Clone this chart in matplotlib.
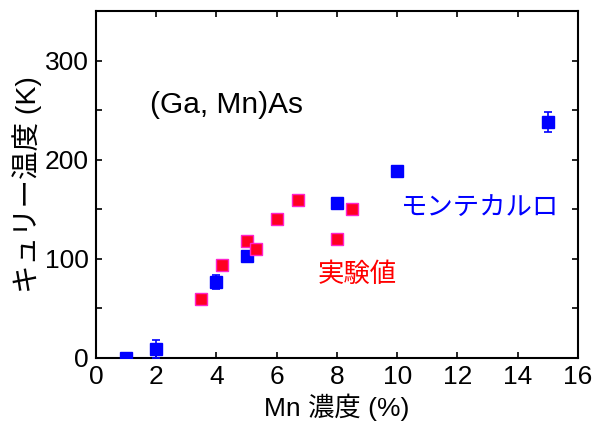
import matplotlib
matplotlib.use("Agg")
import matplotlib.pyplot as plt

plt.rcParams['font.family'] = ['Liberation Sans', 'Noto Sans CJK JP', 'DejaVu Sans']

# Monte Carlo (blue)
mc_x = [1, 2, 4, 5, 8, 10, 15]
mc_y = [0, 9, 77, 103, 156, 189, 238]
mc_err = [0, 9, 7, 0, 0, 4, 10]

# Experiment (red)
ex_x = [3.5, 4.2, 5.0, 5.3, 6.0, 6.7, 8.0, 8.5]
ex_y = [60, 94, 118, 110, 140, 159, 120, 150]

xticks = [0, 2, 4, 6, 8, 10, 12, 14, 16]
yticks = [0, 100, 200, 300]

fig = plt.figure(figsize=(6.03, 4.23), dpi=100)
ax = fig.add_axes([0.159, 0.1537, 0.7995, 0.8203])

ax.errorbar(mc_x, mc_y, yerr=mc_err, fmt='s', color='#0000ff', ms=8.5,
            mec='#0000ff', elinewidth=1.2, capsize=3, capthick=1.2, zorder=3)
ax.plot(ex_x, ex_y, 's', color='#ff0022', mec='#ff22cc', mew=1.0, ms=8, zorder=4)

ax.set_xlim(0, 16)
ax.set_ylim(0, 350)
ax.set_xticks(xticks)
ax.set_yticks(yticks)
ax.set_yticks([50, 150, 250], minor=True)
ax.tick_params(which='both', direction='in', top=True, right=True, labelsize=19,
               width=1.2, pad=5)
ax.tick_params(which='major', length=4)
ax.tick_params(which='minor', length=4)
for s in ax.spines.values():
    s.set_linewidth(1.5)

ax.set_xlabel('Mn 濃度 (%)', fontsize=19, labelpad=3)
ax.set_ylabel('キュリー温度 (K)', fontsize=20.5, labelpad=2)

ax.text(1.79, 255, '(Ga, Mn)As', fontsize=21.5, va='center', ha='left')
ax.text(12.75, 151, 'モンテカルロ', fontsize=19, color='#0000ff', va='center', ha='center')
ax.text(8.68, 84, '実験値', fontsize=19, color='#ff0000', va='center', ha='center')

fig.savefig('out.png', dpi=100)
